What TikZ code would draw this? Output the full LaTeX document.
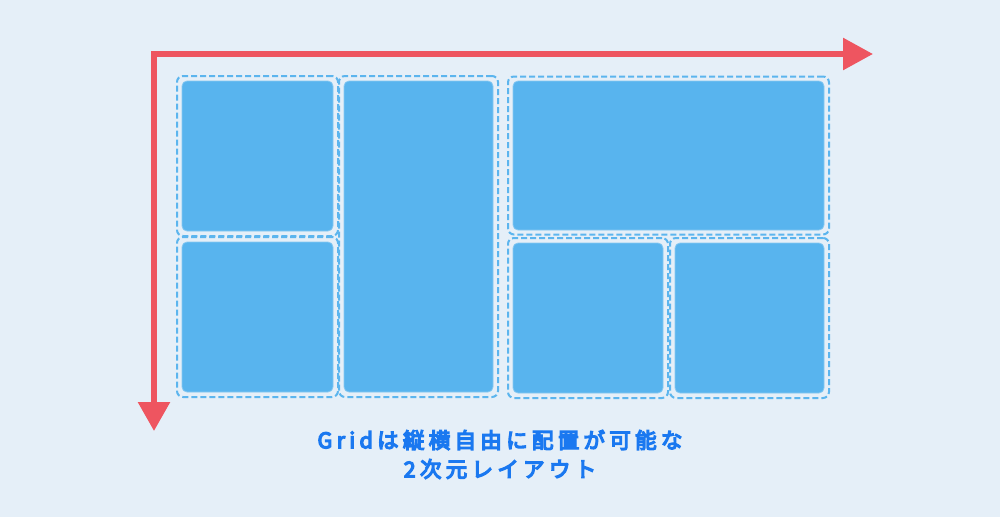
\documentclass[tikz,border=0pt]{standalone}
\usepackage{fontspec}
\newfontfamily\jp[LetterSpace=20, FakeBold=6]{Noto Sans CJK JP}
\usetikzlibrary{arrows.meta,fit}
\definecolor{bg}{HTML}{E5EFF8}
\definecolor{cellblue}{HTML}{58B4EE}
\definecolor{cellrim}{HTML}{86C8F2}
\definecolor{dashblue}{HTML}{5CB5EE}
\definecolor{axisred}{HTML}{EE5560}
\definecolor{textblue}{HTML}{1A78F0}
\tikzset{
  cell/.style={fill=cellblue, draw=cellrim, line width=0.8pt, rounded corners=5pt, inner sep=0pt, outer sep=0pt},
  frame/.style={draw=dashblue, line width=2pt, dash pattern=on 6pt off 3pt, rounded corners=6pt, inner sep=5pt},
  axis/.style={draw=axisred, line width=5.8pt, line join=miter},
  caption/.style={text=textblue, font=\jp\fontsize{21.5pt}{26pt}\selectfont, inner sep=0pt, anchor=center}
}
\begin{document}
\begin{tikzpicture}[x=1pt,y=-1pt]
\fill[bg] (0,0) rectangle (1000,517);
\useasboundingbox (0,0) rectangle (1000,517);
% cells
\node[cell, minimum width=151pt, minimum height=150pt] (a) at (257.5,156) {};
\node[cell, minimum width=151pt, minimum height=150pt] (b) at (257.5,317) {};
\node[cell, minimum width=149pt, minimum height=311pt] (c) at (418.5,236.5) {};
\node[cell, minimum width=311pt, minimum height=149pt] (d) at (668.5,155.5) {};
\node[cell, minimum width=150pt, minimum height=150pt] (e) at (588,318) {};
\node[cell, minimum width=149pt, minimum height=150pt] (f) at (749.5,318) {};
% dashed frames
\node[frame, fit=(a)] (fa) {};
\node[frame, fit=(b)] (fb) {};
\node[frame, fit=(c)] (fc) {};
\node[frame, fit=(d), inner ysep=4.5pt] (fd) {};
\node[frame, fit=(e)] (fe) {};
\node[frame, fit=(f)] (ff) {};
% axes
\coordinate (origin) at (154,54);
\coordinate (xend) at (873,54);
\coordinate (yend) at (154,431);
\draw[axis, {Triangle[length=30pt,width=31pt]}-{Triangle[length=29pt,width=31pt]}] (xend) -- (origin) -- (yend);
% caption
\node[caption] (t1) at (500,440) {Gridは縦横自由に配置が可能な};
\node[caption] (t2) at (500,469) {2次元レイアウト};
\end{tikzpicture}
\end{document}
